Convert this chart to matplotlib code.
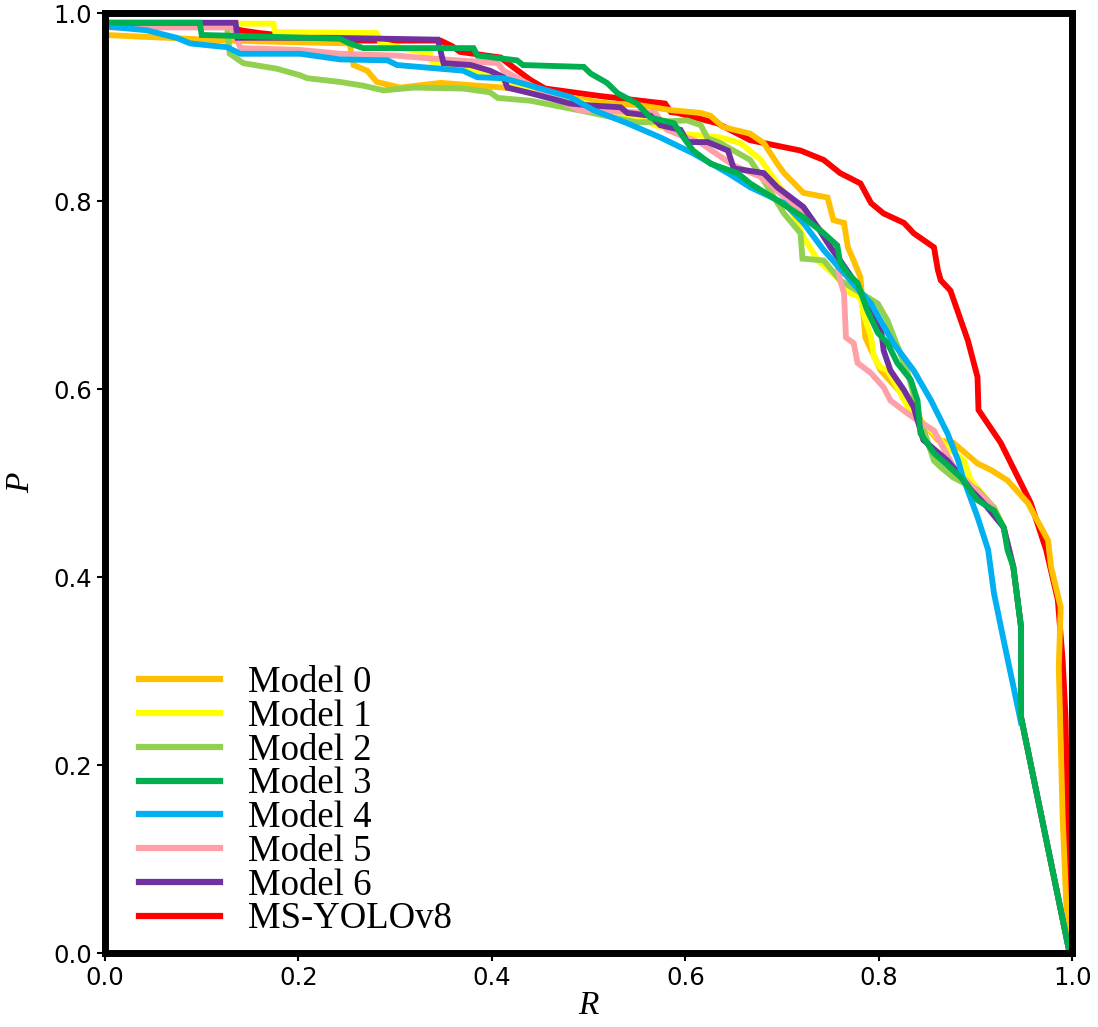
import matplotlib
matplotlib.use("Agg")
import matplotlib.pyplot as plt

labels = ["Model 0", "Model 1", "Model 2", "Model 3", "Model 4", "Model 5", "Model 6", "MS-YOLOv8"]
colors = ["#FFC000", "#FFFF00", "#92D050", "#00B050", "#00B0F0", "#FFA0A8", "#7030A0", "#FF0000"]

R_m0 = [0.0, 0.126, 0.253, 0.257, 0.271, 0.281, 0.305, 0.347, 0.412, 0.450, 0.512, 0.554, 0.585, 0.616, 0.626,
        0.639, 0.667, 0.681, 0.695, 0.702, 0.722, 0.747, 0.753, 0.764, 0.768, 0.774, 0.781, 0.786, 0.802, 0.823,
        0.843, 0.861, 0.877, 0.902, 0.916, 0.933, 0.954, 0.975, 0.978, 0.988, 0.986, 0.990, 0.995, 0.998]
P_m0 = [0.977, 0.971, 0.968, 0.945, 0.939, 0.927, 0.921, 0.926, 0.921, 0.916, 0.905, 0.902, 0.897, 0.894, 0.891,
        0.879, 0.872, 0.862, 0.840, 0.830, 0.809, 0.804, 0.780, 0.777, 0.751, 0.737, 0.719, 0.655, 0.620, 0.596,
        0.567, 0.546, 0.543, 0.521, 0.514, 0.503, 0.479, 0.439, 0.411, 0.368, 0.304, 0.145, 0.021, 0.003]

R_m1 = [0.0, 0.174, 0.176, 0.281, 0.285, 0.336, 0.339, 0.378, 0.429, 0.530, 0.595, 0.636, 0.657, 0.678, 0.702,
        0.722, 0.737, 0.757, 0.771, 0.781, 0.784, 0.792, 0.795, 0.802, 0.809, 0.819, 0.830, 0.843, 0.857, 0.871,
        0.888, 0.895, 0.919, 0.929, 0.939, 0.947, 0.947, 0.996]
P_m1 = [0.989, 0.989, 0.980, 0.979, 0.968, 0.957, 0.947, 0.939, 0.923, 0.895, 0.872, 0.868, 0.862, 0.844, 0.809,
        0.762, 0.737, 0.719, 0.702, 0.698, 0.681, 0.655, 0.634, 0.623, 0.620, 0.602, 0.581, 0.567, 0.553, 0.538,
        0.524, 0.503, 0.474, 0.453, 0.411, 0.347, 0.251, 0.006]

R_m2 = [0.0, 0.126, 0.129, 0.143, 0.178, 0.202, 0.209, 0.243, 0.267, 0.288, 0.319, 0.370, 0.398, 0.406, 0.440,
        0.499, 0.550, 0.602, 0.616, 0.623, 0.636, 0.667, 0.681, 0.702, 0.719, 0.721, 0.743, 0.760, 0.799, 0.809,
        0.830, 0.843, 0.857, 0.864, 0.877, 0.902, 0.919, 0.929, 0.939, 0.947, 0.947, 0.996]
P_m2 = [0.990, 0.989, 0.957, 0.947, 0.941, 0.934, 0.931, 0.927, 0.923, 0.918, 0.921, 0.920, 0.916, 0.910, 0.907,
        0.895, 0.884, 0.886, 0.881, 0.867, 0.862, 0.844, 0.822, 0.787, 0.766, 0.739, 0.737, 0.716, 0.691, 0.673,
        0.617, 0.567, 0.524, 0.517, 0.506, 0.493, 0.474, 0.453, 0.411, 0.347, 0.251, 0.006]

R_m3 = [0.0, 0.098, 0.100, 0.243, 0.253, 0.267, 0.381, 0.385, 0.426, 0.432, 0.495, 0.502, 0.519, 0.530, 0.550,
        0.564, 0.588, 0.598, 0.608, 0.626, 0.654, 0.667, 0.695, 0.722, 0.743, 0.757, 0.760, 0.768, 0.778, 0.788,
        0.799, 0.809, 0.819, 0.833, 0.840, 0.843, 0.857, 0.885, 0.902, 0.919, 0.929, 0.933, 0.939, 0.947, 0.947,
        0.996]
P_m3 = [0.990, 0.990, 0.977, 0.973, 0.968, 0.963, 0.963, 0.955, 0.950, 0.945, 0.943, 0.936, 0.926, 0.915, 0.904,
        0.889, 0.883, 0.868, 0.854, 0.840, 0.830, 0.819, 0.801, 0.783, 0.766, 0.753, 0.735, 0.723, 0.713, 0.684,
        0.660, 0.649, 0.628, 0.610, 0.588, 0.553, 0.532, 0.506, 0.482, 0.471, 0.453, 0.429, 0.411, 0.347, 0.251,
        0.006]

R_m4 = [0.0, 0.012, 0.043, 0.074, 0.088, 0.126, 0.140, 0.202, 0.243, 0.292, 0.302, 0.370, 0.385, 0.412, 0.440,
        0.481, 0.505, 0.540, 0.574, 0.608, 0.644, 0.667, 0.702, 0.722, 0.743, 0.792, 0.815, 0.836, 0.854, 0.871,
        0.882, 0.887, 0.902, 0.913, 0.919, 0.929, 0.947]
P_m4 = [0.986, 0.985, 0.982, 0.974, 0.968, 0.964, 0.957, 0.957, 0.951, 0.950, 0.945, 0.939, 0.932, 0.931, 0.923,
        0.911, 0.897, 0.883, 0.868, 0.851, 0.830, 0.815, 0.798, 0.777, 0.748, 0.691, 0.649, 0.620, 0.588, 0.553,
        0.524, 0.506, 0.464, 0.429, 0.383, 0.333, 0.245]

R_m5 = [0.0, 0.132, 0.140, 0.202, 0.243, 0.302, 0.336, 0.406, 0.412, 0.450, 0.491, 0.569, 0.581, 0.616, 0.650,
        0.678, 0.719, 0.740, 0.753, 0.760, 0.764, 0.766, 0.774, 0.778, 0.792, 0.805, 0.812, 0.830, 0.840, 0.857,
        0.879, 0.916, 0.929, 0.939, 0.947, 0.947, 0.996]
P_m5 = [0.985, 0.985, 0.963, 0.961, 0.957, 0.955, 0.952, 0.947, 0.939, 0.918, 0.897, 0.894, 0.876, 0.862, 0.838,
        0.826, 0.790, 0.769, 0.755, 0.716, 0.702, 0.655, 0.649, 0.628, 0.617, 0.602, 0.588, 0.574, 0.567, 0.556,
        0.514, 0.477, 0.453, 0.411, 0.347, 0.251, 0.006]

R_m6 = [0.0, 0.135, 0.137, 0.233, 0.344, 0.350, 0.378, 0.398, 0.412, 0.416, 0.440, 0.481, 0.502, 0.533, 0.540,
        0.564, 0.574, 0.595, 0.602, 0.623, 0.644, 0.650, 0.681, 0.695, 0.722, 0.737, 0.750, 0.760, 0.774, 0.802,
        0.805, 0.812, 0.826, 0.836, 0.846, 0.871, 0.882, 0.895, 0.910, 0.929, 0.939, 0.947, 0.947, 0.996]
P_m6 = [0.990, 0.990, 0.974, 0.974, 0.972, 0.947, 0.945, 0.939, 0.932, 0.921, 0.915, 0.904, 0.902, 0.900, 0.894,
        0.891, 0.881, 0.876, 0.863, 0.863, 0.854, 0.835, 0.830, 0.815, 0.794, 0.772, 0.751, 0.737, 0.716, 0.666,
        0.641, 0.620, 0.599, 0.581, 0.546, 0.524, 0.511, 0.493, 0.477, 0.453, 0.411, 0.347, 0.251, 0.006]

R_ms = [0.0, 0.132, 0.140, 0.160, 0.233, 0.347, 0.359, 0.367, 0.409, 0.419, 0.440, 0.455, 0.512, 0.579, 0.585,
        0.592, 0.633, 0.667, 0.719, 0.743, 0.760, 0.781, 0.792, 0.805, 0.826, 0.836, 0.857, 0.861, 0.864, 0.874,
        0.892, 0.902, 0.903, 0.926, 0.957, 0.973, 0.985, 0.990, 0.993, 0.995, 0.998]
P_ms = [0.987, 0.986, 0.982, 0.979, 0.971, 0.971, 0.965, 0.959, 0.953, 0.945, 0.929, 0.920, 0.912, 0.904, 0.895,
        0.894, 0.883, 0.865, 0.854, 0.844, 0.830, 0.819, 0.798, 0.787, 0.777, 0.766, 0.751, 0.727, 0.716, 0.705,
        0.652, 0.613, 0.578, 0.543, 0.479, 0.429, 0.376, 0.312, 0.251, 0.145, 0.003]

series_R = [R_m0, R_m1, R_m2, R_m3, R_m4, R_m5, R_m6, R_ms]
series_P = [P_m0, P_m1, P_m2, P_m3, P_m4, P_m5, P_m6, P_ms]
zorders = [3, 4, 5, 10, 9, 6, 7, 2]

fig = plt.figure(figsize=(10.98, 10.27), dpi=100)
ax = fig.add_axes([0.0956, 0.072, 0.881, 0.915])

handles = []
for R, P, c, lab, z in zip(series_R, series_P, colors, labels, zorders):
    h, = ax.plot(R, P, color=c, lw=4.2, label=lab, zorder=z, solid_joinstyle="miter")
    handles.append(h)

ax.set_xlim(0, 1)
ax.set_ylim(0, 1)
ax.set_xticks([0.0, 0.2, 0.4, 0.6, 0.8, 1.0])
ax.set_yticks([0.0, 0.2, 0.4, 0.6, 0.8, 1.0])
ax.tick_params(labelsize=17.5, length=6, width=1.5, direction="out")
for s in ax.spines.values():
    s.set_linewidth(5)
    s.set_zorder(20)

ax.set_xlabel("R", fontsize=24, fontstyle="italic", family="Liberation Serif", labelpad=0)
ax.set_ylabel("P", fontsize=24, fontstyle="italic", family="Liberation Serif", labelpad=12)

leg = ax.legend(handles=handles, loc="lower left", bbox_to_anchor=(0.02, 0.002), frameon=False,
                prop={"family": "Liberation Serif", "size": 26.5}, handlelength=2.2, handletextpad=0.75,
                labelspacing=-0.02, borderaxespad=0.0)
for l in leg.get_lines():
    l.set_linewidth(4.5)

fig.savefig("out.png", dpi=100)
